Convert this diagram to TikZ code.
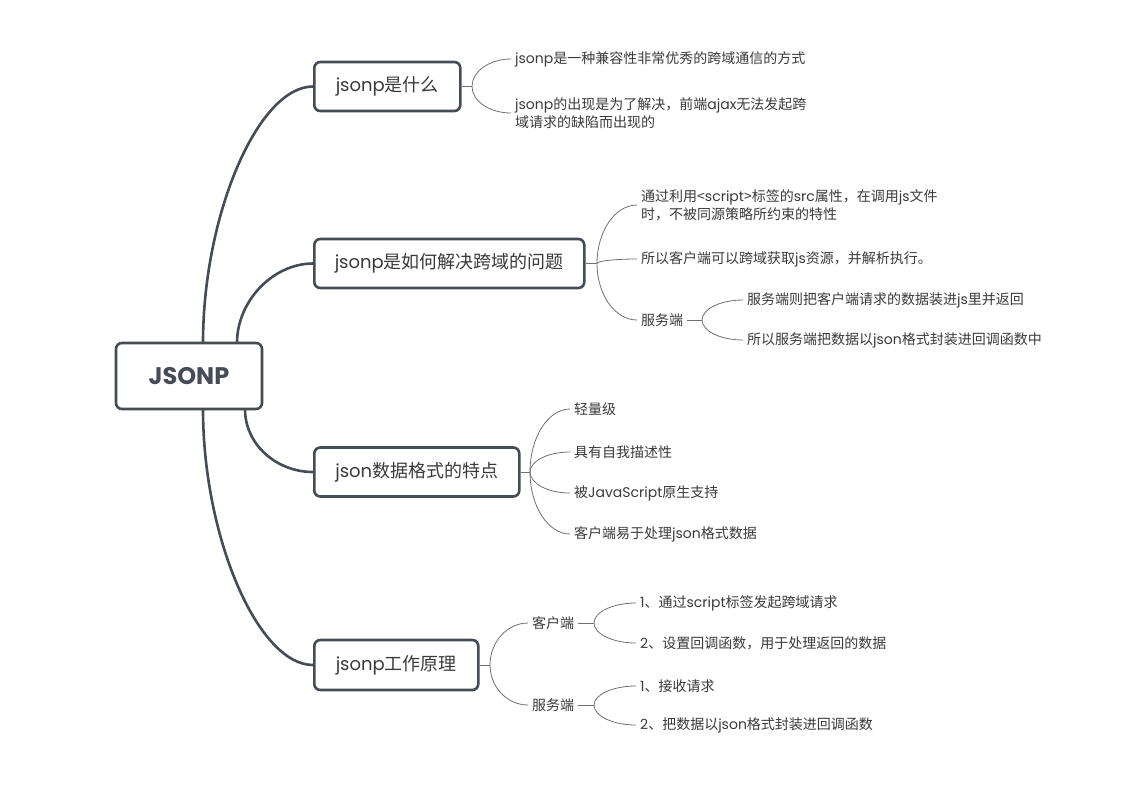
\documentclass[tikz,border=0pt]{standalone}
\usepackage{fontspec}
\setmainfont{Noto Sans CJK SC}
\newfontfamily\pop{Poppins}
\usetikzlibrary{calc}
\definecolor{dk}{HTML}{454C55}
\definecolor{tx}{HTML}{3A3A3A}
\definecolor{ln}{HTML}{707070}
\newcommand\la[1]{{\pop #1}}
\newcommand\brch[2]{\draw[thinln] (#1) .. controls ($(#1)!0.55!(#1 |- #2)$) and ($(#1 |- #2)!0.45!(#2)$) .. (#2);}
\tikzset{
 rootbox/.style={draw=dk, line width=2.6pt, rounded corners=6pt, fill=white, minimum width=146pt, minimum height=66pt, inner sep=0pt, font=\pop\bfseries\fontsize{24}{24}\selectfont, text=dk},
 topic/.style={draw=dk, line width=2.6pt, rounded corners=6pt, fill=white, minimum height=49pt, inner sep=0pt, font=\fontsize{18}{22}\selectfont, text=tx, anchor=west},
 leaf/.style={anchor=west, inner xsep=4pt, inner ysep=0pt, font=\fontsize{14}{18}\selectfont, text=tx, align=left},
 thickln/.style={draw=dk, line width=2.6pt},
 thinln/.style={draw=ln, line width=0.8pt},
}
\begin{document}
\begin{tikzpicture}[x=1pt,y=-1pt]
\useasboundingbox (0,0) rectangle (1147,796);
\fill[white] (0,0) rectangle (1147,796);

% root and topics
\node[rootbox] (root) at (189,376) {JSONP};
\coordinate (rt1) at (203,343);
\coordinate (rt2) at (237,343);
\coordinate (rb3) at (245,409);
\coordinate (rb4) at (203,409);

\node[topic, minimum width=146pt] (b1) at (313,86.5) {\la{jsonp}是什么};
\node[topic, minimum width=270pt] (b2) at (313,263.5) {\la{jsonp}是如何解决跨域的问题};
\node[topic, minimum width=205pt] (b3) at (313,472) {\la{json}数据格式的特点};
\node[topic, minimum width=164pt, minimum height=50pt] (b4) at (313,665) {\la{jsonp}工作原理};

% thick connectors
\draw[thickln] (rt1) .. controls +(0,-128) and +(-55,0) .. (b1.west);
\draw[thickln] (rt2) .. controls +(0,-42) and +(-40,0) .. (b2.west);
\draw[thickln] (rb3) .. controls +(0,36) and +(-36,0) .. (b3.west);
\draw[thickln] (rb4) .. controls +(0,128) and +(-55,0) .. (b4.west);

% leaves of b1
\coordinate (k1) at (472,86.5);
\node[leaf] (l11) at (511,59) {\la{jsonp}是一种兼容性非常优秀的跨域通信的方式};
\node[leaf] (l12) at (511,113) {\la{jsonp}的出现是为了解决，前端\la{ajax}无法发起跨\\域请求的缺陷而出现的};
\draw[thinln] (b1.east) -- (k1);
\brch{k1}{l11.west}
\brch{k1}{l12.west}

% leaves of b2
\coordinate (k2) at (597,263.5);
\node[leaf] (l21) at (637,205) {通过利用<\la{script}>标签的\la{src}属性，在调用\la{js}文件\\时，不被同源策略所约束的特性};
\node[leaf] (l22) at (637,259) {所以客户端可以跨域获取\la{js}资源，并解析执行。};
\node[leaf] (l23) at (637,320) {服务端};
\draw[thinln] (b2.east) -- (k2);
\brch{k2}{l21.west}
\brch{k2}{l22.west}
\brch{k2}{l23.west}
\coordinate (k23) at (702,320);
\node[leaf] (l231) at (743,300) {服务端则把客户端请求的数据装进\la{js}里并返回};
\node[leaf] (l232) at (743,340) {所以服务端把数据以\la{json}格式封装进回调函数中};
\draw[thinln] (l23.east) -- (k23);
\brch{k23}{l231.west}
\brch{k23}{l232.west}

% leaves of b3
\coordinate (k3) at (530,472);
\node[leaf] (l31) at (570,409) {轻量级};
\node[leaf] (l32) at (570,452) {具有自我描述性};
\node[leaf] (l33) at (570,493) {被\la{JavaScript}原生支持};
\node[leaf] (l34) at (570,534) {客户端易于处理\la{json}格式数据};
\draw[thinln] (b3.east) -- (k3);
\brch{k3}{l31.west}
\brch{k3}{l32.west}
\brch{k3}{l33.west}
\brch{k3}{l34.west}

% leaves of b4
\coordinate (k4) at (490,665);
\node[leaf] (l41) at (528,623) {客户端};
\node[leaf] (l42) at (528,705) {服务端};
\draw[thinln] (b4.east) -- (k4);
\brch{k4}{l41.west}
\brch{k4}{l42.west}
\coordinate (k41) at (594,623);
\coordinate (k42) at (594,705);
\node[leaf] (l411) at (636,603) {\la{1}、通过\la{script}标签发起跨域请求};
\node[leaf] (l412) at (636,643) {\la{2}、设置回调函数，用于处理返回的数据};
\node[leaf] (l421) at (636,686) {\la{1}、接收请求};
\node[leaf] (l422) at (636,725) {\la{2}、把数据以\la{json}格式封装进回调函数};
\draw[thinln] (l41.east) -- (k41);
\draw[thinln] (l42.east) -- (k42);
\brch{k41}{l411.west}
\brch{k41}{l412.west}
\brch{k42}{l421.west}
\brch{k42}{l422.west}
\end{tikzpicture}
\end{document}
